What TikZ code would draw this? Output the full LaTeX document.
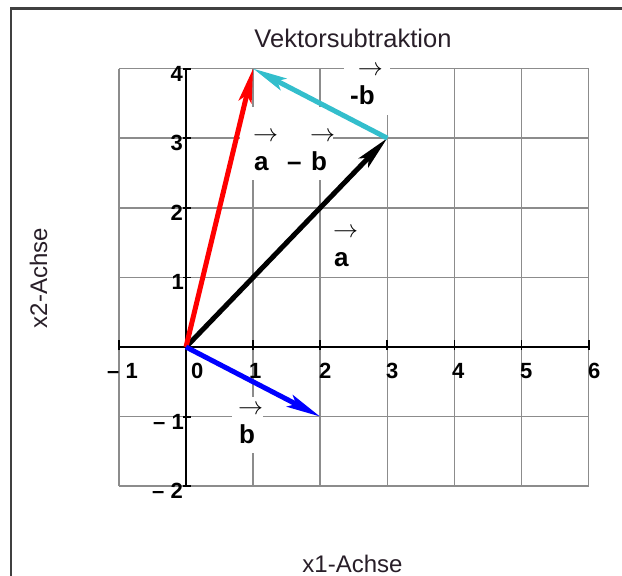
\documentclass[tikz,border=0pt]{standalone}
\usepackage{graphicx}
\usepackage{fontspec}
\setmainfont{Liberation Sans}
\usetikzlibrary{arrows.meta}
\definecolor{gridgray}{RGB}{140,140,140}
\definecolor{vcyan}{RGB}{51,190,204}
\definecolor{framecol}{RGB}{64,64,64}
\definecolor{titlecol}{RGB}{40,30,40}
\newcommand{\varr}{{\fontsize{20.74}{22}\selectfont\raisebox{28.7pt}{\resizebox{25pt}{!}{$\rightarrow$}}}}
\newcommand{\vl}[1]{\makebox[0pt][l]{\hspace{-1pt}\varr}#1}
\tikzset{
  gridline/.style={gridgray, line width=1.6pt},
  axisline/.style={black, line width=2pt},
  ticksty/.style={black, line width=1.8pt},
  vec/.style={line width=5pt, -{Stealth[length=34pt,width=13pt,inset=7pt]}},
  ticklab/.style={font=\fontsize{22}{26}\selectfont\bfseries, inner sep=0pt},
  veclab/.style={font=\fontsize{26}{30}\selectfont\bfseries, inner sep=0pt},
  axtitle/.style={font=\fontsize{24}{28}\selectfont, text=titlecol, inner sep=0pt},
  mask/.style={fill=white}
}
\begin{document}
\begin{tikzpicture}[x=1pt, y=-1pt]
\useasboundingbox (0,0) rectangle (622,576);
% outer frame (only top and left edges visible)
\draw[framecol, line width=2.5pt] (11,580) -- (11,8.7) -- (630,8.7);

\begin{scope}[shift={(186pt,-347pt)}, x=67.1pt, y=69.6pt]
  % grid
  \foreach \gx in {-1,...,6} \draw[gridline] (\gx,-2) -- (\gx,4);
  \foreach \gy in {-2,...,4} \draw[gridline] (-1,\gy) -- (6,\gy);
  % axes
  \draw[axisline] (-1,0) -- (6,0);
  \draw[axisline] (0,-2) -- (0,4);
  % ticks
  \foreach \gx in {-1,...,6} \draw[ticksty] (\gx,0) ++(0,-3pt) -- ++(0,10pt);
  \foreach \gy in {-2,...,4} \draw[ticksty] (0,\gy) ++(-3pt,0) -- ++(8pt,0);
  % vector end points
  \coordinate (O) at (0,0);
  \coordinate (A) at (3,3);
  \coordinate (C) at (1,4);
  \coordinate (B) at (2,-1);
\end{scope}

% white label backgrounds
\fill[mask] (240,107) rectangle (333,180);
\fill[mask] (344,60) rectangle (390,115);
\fill[mask] (232,397) rectangle (263,453);

% tick labels x
\node[ticklab, anchor=base west] (xm1) at (107,378) {– 1};
\node[ticklab, anchor=base west] (x0) at (191,378) {0};
\node[ticklab, anchor=base west] (x1) at (249,378) {1};
\node[ticklab, anchor=base west] (x2) at (319,378) {2};
\node[ticklab, anchor=base west] (x3) at (386,378) {3};
\node[ticklab, anchor=base west] (x4) at (452,378) {4};
\node[ticklab, anchor=base west] (x5) at (520,378) {5};
\node[ticklab, anchor=base west] (x6) at (588,378) {6};
% tick labels y
\node[ticklab, anchor=base east] (y4) at (183,81) {4};
\node[ticklab, anchor=base east] (y3) at (183,150.5) {3};
\node[ticklab, anchor=base east] (y2) at (183,220) {2};
\node[ticklab, anchor=base east] (y1) at (184,289.5) {1};
\node[ticklab, anchor=base east] (ym1) at (184,429) {– 1};
\node[ticklab, anchor=base east] (ym2) at (183,498.5) {– 2};

% vectors
\draw[vec, black] (O) -- (A);
\draw[vec, red] (O) -- (C);
\draw[vec, blue] (O) -- (B);
\draw[vec, vcyan] (A) -- (C);

% vector labels
\node[veclab, anchor=base west] (la) at (334,266) {\vl{a}};
\node[veclab, anchor=base west] (lmb) at (350,104) {-\vl{b}};
\node[veclab, anchor=base west] (lamb) at (254,170) {\makebox[33pt][l]{\vl{a}}\makebox[24pt][l]{–}\vl{b}};
\node[veclab, anchor=base west] (lb) at (239,443) {\vl{b}};

% titles
\node[anchor=base, font=\fontsize{25.5}{30}\selectfont, text=titlecol, inner sep=0pt] (title) at (353,47) {Vektorsubtraktion};
\node[axtitle, anchor=base] (xt) at (352.5,572) {x1-Achse};
\node[axtitle, rotate=90, anchor=base] (yt) at (47,278) {x2-Achse};
\end{tikzpicture}
\end{document}
